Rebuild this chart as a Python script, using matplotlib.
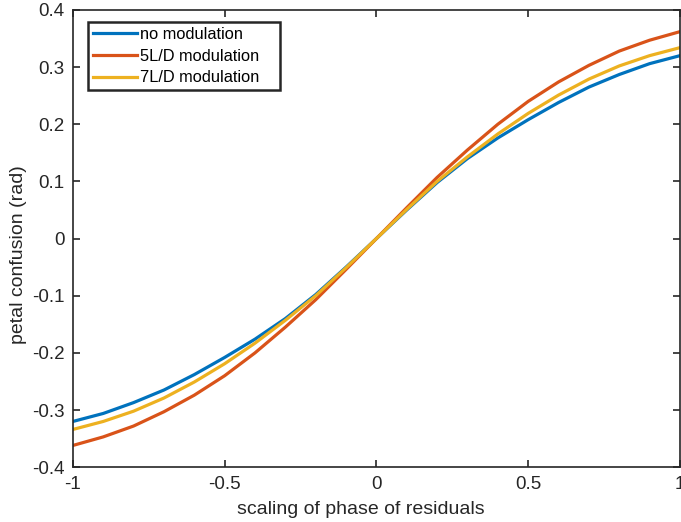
import matplotlib
matplotlib.use("Agg")
import matplotlib.pyplot as plt

plt.rcParams['font.family'] = ['Liberation Sans', 'DejaVu Sans']

x = [-1.0, -0.9, -0.8, -0.7, -0.6, -0.5, -0.4, -0.3, -0.2, -0.1, 0.0,
     0.1, 0.2, 0.3, 0.4, 0.5, 0.6, 0.7, 0.8, 0.9, 1.0]
half_none = [0.050, 0.098, 0.140, 0.176, 0.208, 0.238, 0.265, 0.287, 0.306, 0.320]
half_5ld = [0.054, 0.107, 0.155, 0.200, 0.240, 0.274, 0.303, 0.328, 0.347, 0.362]
half_7ld = [0.051, 0.100, 0.143, 0.183, 0.219, 0.251, 0.279, 0.302, 0.320, 0.334]

# curves are odd, so mirror the positive half
no_mod = [-v for v in half_none[::-1]] + [0.0] + half_none
mod_5ld = [-v for v in half_5ld[::-1]] + [0.0] + half_5ld
mod_7ld = [-v for v in half_7ld[::-1]] + [0.0] + half_7ld

fig = plt.figure(figsize=(6.81, 5.22), dpi=100)
ax = fig.add_axes([0.107, 0.105, 0.8915, 0.876])

ax.plot(x, no_mod, color='#0072BD', lw=2.3, label='no modulation')
ax.plot(x, mod_5ld, color='#D95319', lw=2.3, label='5L/D modulation')
ax.plot(x, mod_7ld, color='#EDB120', lw=2.3, label='7L/D modulation')

ax.set_xlim(-1, 1)
ax.set_ylim(-0.4, 0.4)
ax.set_xticks([-1, -0.5, 0, 0.5, 1])
ax.set_xticklabels(['-1', '-0.5', '0', '0.5', '1'])
ax.set_yticks([-0.4, -0.3, -0.2, -0.1, 0, 0.1, 0.2, 0.3, 0.4])
ax.set_yticklabels(['-0.4', '-0.3', '-0.2', '-0.1', '0', '0.1', '0.2', '0.3', '0.4'])
ax.tick_params(direction='in', length=5, width=1.2, labelsize=13.5, colors='#262626',
               top=True, right=True, pad=6)
for s in ax.spines.values():
    s.set_color('#262626')
    s.set_linewidth(1.2)

ax.set_xlabel('scaling of phase of residuals', fontsize=14, color='#262626')
ax.set_ylabel('petal confusion (rad)', fontsize=14, color='#262626')
ax.xaxis.set_label_coords(0.475, -0.075)
ax.yaxis.set_label_coords(-0.075, 0.465)

leg = ax.legend(loc='upper left', bbox_to_anchor=(0.0247, 0.0, 0.316, 0.974), mode='expand',
                fontsize=11.8, fancybox=False, framealpha=1, edgecolor='#262626',
                handlelength=2.7, borderpad=0.3, labelspacing=0.42, handletextpad=0.2,
                borderaxespad=0)
leg.get_frame().set_linewidth(1.8)

fig.savefig('out.png', dpi=100)
